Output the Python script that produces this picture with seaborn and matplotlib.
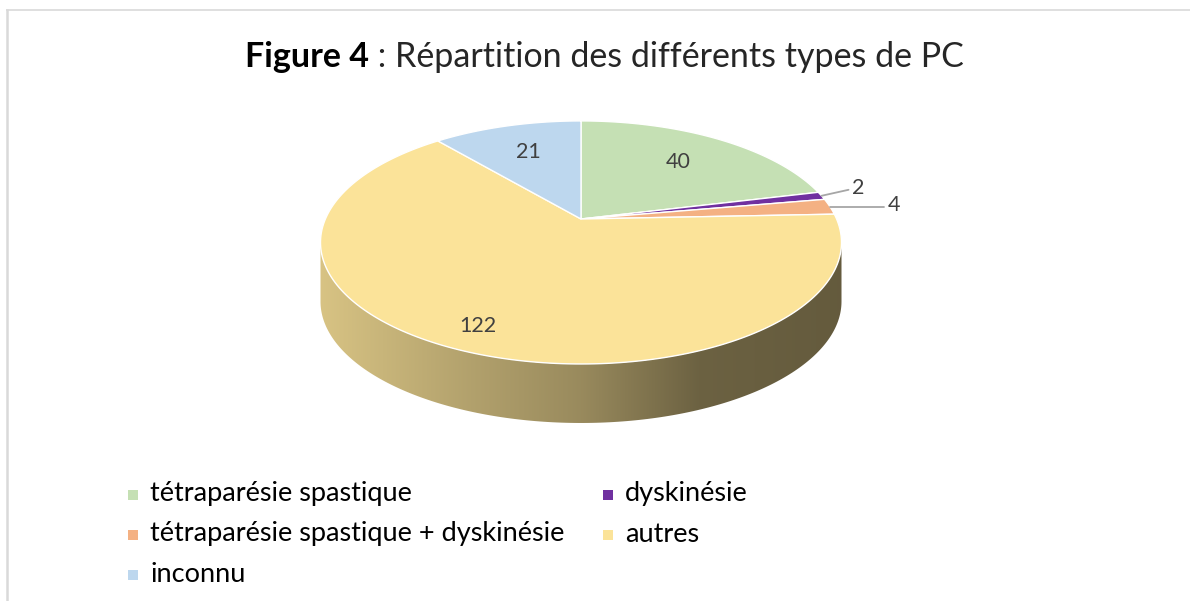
import numpy as np
import matplotlib
matplotlib.use("Agg")
import matplotlib.pyplot as plt
import seaborn as sns
from matplotlib.patches import Polygon, Rectangle

# ---------------- data ----------------
categories = ["tétraparésie spastique", "dyskinésie",
              "tétraparésie spastique + dyskinésie", "autres", "inconnu"]
counts = [40, 2, 4, 122, 21]
colors = ["#c5e0b4", "#7030a0", "#f4b183", "#fbe399", "#bdd7ee"]
title_bold = "Figure 4"
title_rest = " : Répartition des différents types de PC"

sns.set_theme(style="white")
plt.rcParams['font.family'] = ['Lato', 'DejaVu Sans']

W, H = 1190, 601
fig = plt.figure(figsize=(W / 100, H / 100), dpi=100)

# pie geometry from matplotlib's own pie
gax = fig.add_axes([0, 0, 0.01, 0.01])
wedges, _ = gax.pie(counts, startangle=90, counterclock=False)
angles = [(w.theta1, w.theta2) for w in wedges]
gax.remove()

ax = fig.add_axes([0, 0, 1, 1])
ax.set_xlim(0, W)
ax.set_ylim(H, 0)
ax.axis("off")

# perspective projection of the unit disk
X0, Y0 = 581.0, 219.0
A, B, K = 255.6, 117.0, 0.193
DEPTH = 59.0


def proj(x, y):
    w = 1 + K * y
    return X0 + A * x / w, Y0 - B * y / w


def arc(t1, t2, n=200):
    t = np.radians(np.linspace(t1, t2, n))
    return proj(np.cos(t), np.sin(t))


# ---- side of the cylinder (front part only) ----
fa = 180 + np.degrees(np.arcsin(K))
fb = 360 - np.degrees(np.arcsin(K))
xs = np.linspace(0, W, W)
fac = np.interp(xs, [320, 470, 580, 700, 841], [0.86, 0.71, 0.61, 0.43, 0.40])
for (t1, t2), col in zip(angles, colors):
    for sh in (-360, 0, 360):
        a, b = max(t1, fa + sh), min(t2, fb + sh)
        if b > a:
            px, py = arc(a, b)
            verts = np.concatenate([np.c_[px, py], np.c_[px[::-1], py[::-1] + DEPTH]])
            poly = Polygon(verts, closed=True, facecolor="none", edgecolor="none")
            ax.add_patch(poly)
            rgb = np.array(matplotlib.colors.to_rgb(col))
            img = (fac[:, None] * rgb[None, :])[None, :, :]
            im = ax.imshow(img, extent=(0, W, H, 0), aspect="auto", zorder=1,
                           interpolation="bilinear")
            im.set_clip_path(poly)

# ---- top faces ----
for (t1, t2), col in zip(angles, colors):
    px, py = arc(t1, t2)
    verts = np.concatenate([[[X0, Y0]], np.c_[px, py]])
    ax.add_patch(Polygon(verts, closed=True, facecolor=col, edgecolor="white",
                         linewidth=1.0, joinstyle="round", zorder=2))

ax.set_xlim(0, W)
ax.set_ylim(H, 0)

# ---- data labels ----
total = sum(counts)
small_i = 0
small_off = [(27, -6), (54, 0)]
for (t1, t2), v in zip(angles, counts):
    mid = np.radians((t1 + t2) / 2)
    frac = v / total
    if frac >= 0.05:
        r = 0.85 if frac > 0.5 else 0.68
        lx, ly = proj(r * np.cos(mid), r * np.sin(mid))
        ax.text(lx, ly, str(v), ha="center", va="center", fontsize=15.5,
                color="#404040", zorder=5)
    else:
        rx, ry = proj(np.cos(mid), np.sin(mid))
        dx, dy = small_off[small_i]
        small_i += 1
        ex, ey = rx + dx, ry + dy
        ax.plot([rx, ex], [ry, ey], color="#a6a6a6", lw=1.3, zorder=5)
        ax.text(ex + 10, ey - 2, str(v), ha="center", va="center", fontsize=15.5,
                color="#404040", zorder=5)

# ---- title ----
fig.canvas.draw()
r = fig.canvas.get_renderer()
t1_ = ax.text(245, 67, title_bold, fontsize=24.5, fontweight="bold",
              color="black", va="baseline", ha="left")
bb = t1_.get_window_extent(renderer=r)
inv = ax.transData.inverted()
xend = inv.transform((bb.x1, bb.y0))[0]
ax.text(xend, 67, title_rest, fontsize=24.5, color="#262626",
        va="baseline", ha="left")

# ---- legend ----
order = [0, 1, 2, 3, 4]
col_x = [133, 608]
row_y = [495, 535, 575]
for k, i in enumerate(order):
    row, c = divmod(k, 2)
    x, y = col_x[c], row_y[row]
    ax.add_patch(Rectangle((x - 5, y - 5), 10, 10, facecolor=colors[i],
                           edgecolor="none"))
    ax.text(x + 17, y - 1, categories[i], fontsize=19.5, color="black",
            va="center", ha="left")

# ---- chart border ----
ax.plot([6, W], [9.5, 9.5], color="#d9d9d9", lw=1.2, solid_capstyle="butt")
ax.plot([7, 7], [9, H], color="#d9d9d9", lw=1.8, solid_capstyle="butt")

fig.savefig("out.png", dpi=100)
